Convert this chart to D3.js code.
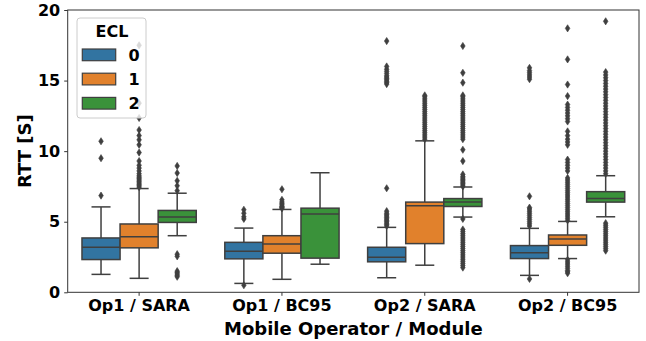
<!DOCTYPE html>
<html>
<head>
<meta charset="utf-8">
<script src="https://cdn.jsdelivr.net/npm/d3@7"></script>
<style>
  body { margin: 0; background: #fff; }
  svg text { font-family: "DejaVu Sans", sans-serif; font-weight: bold; fill: #000; }
</style>
</head>
<body>
<div id="chart"></div>
<script>
// categories and hue levels
const categories = ["Op1 / SARA", "Op1 / BC95", "Op2 / SARA", "Op2 / BC95"];
const hues = ["0", "1", "2"];
const hueColors = ["#3274a1", "#e1812c", "#3a923a"];

// box statistics, one row per category, one value per hue (ECL 0, 1, 2)
const q1 = [[2.32, 3.15, 4.95], [2.37, 2.77, 2.42], [2.16, 3.45, 6.08], [2.39, 3.33, 6.39]];
const medians = [[3.2, 3.94, 5.33], [2.91, 3.43, 5.54], [2.49, 6.13, 6.39], [2.8, 3.78, 6.64]];
const q3 = [[3.85, 4.84, 5.8], [3.54, 4.01, 5.96], [3.19, 6.39, 6.64], [3.31, 4.06, 7.13]];
const whiskerLow = [[1.27, 0.99, 4.01], [0.63, 0.92, 1.99], [1.03, 1.92, 5.33], [1.2, 2.39, 5.35]];
const whiskerHigh = [[6.05, 7.35, 7.02], [4.55, 5.87, 8.47], [4.6, 10.73, 7.46], [4.53, 5.02, 8.26]];

// fliers
const outliers = [
  [
    [6.85, 9.5, 10.7],
    [7.45, 7.55, 7.65, 7.75, 7.85, 7.95, 8.05, 8.15, 8.25, 8.4, 8.6, 8.8, 9.0, 9.3, 9.9, 10.45, 10.8, 11.1, 11.5, 12.35, 13.4, 17.5],
    [7.2, 7.55, 7.9, 8.45, 8.95, 2.7, 2.55, 1.5, 1.4, 1.3, 1.2, 1.1]
  ],
  [
    [5.2, 5.35, 5.6, 5.85, 0.5],
    [5.95, 6.0, 6.05, 6.1, 6.2, 6.3, 6.4, 6.55, 7.3],
    []
  ],
  [
    [4.7, 4.8, 4.9, 5.0, 5.1, 5.2, 5.3, 5.4, 5.5, 5.6, 5.75, 7.37, 14.75, 14.85, 14.95, 15.05, 15.15, 15.25, 15.35, 15.5, 15.65, 15.8, 16.0, 17.8],
    [10.85, 11.0, 11.15, 11.3, 11.45, 11.6, 11.75, 11.9, 12.05, 12.2, 12.35, 12.5, 12.65, 12.8, 12.95, 13.1, 13.25, 13.4, 13.55, 13.7, 13.85, 13.95],
    [7.5, 7.6, 7.7, 7.8, 7.9, 8.0, 8.1, 8.2, 8.35, 9.3, 10.1,
     10.85, 11.0, 11.15, 11.3, 11.45, 11.6, 11.75, 11.9, 12.05, 12.2, 12.35, 12.5, 12.65, 12.8, 12.95, 13.1, 13.25, 13.4, 13.55, 13.7, 13.85, 13.95,
     14.85, 15.55, 17.45,
     5.2, 4.45, 4.3, 4.15, 4.0, 3.85, 3.7, 3.55, 3.4, 3.25, 3.1, 2.95, 2.8, 2.65, 2.5, 2.35, 2.2, 2.05, 1.9, 1.75]
  ],
  [
    [4.7, 4.85, 5.0, 5.15, 5.3, 5.45, 5.6, 5.75, 5.9, 6.0, 6.8, 15.1, 15.25, 15.4, 15.55, 15.7, 15.9, 0.95],
    [5.1, 5.25, 5.4, 5.55, 5.7, 5.85, 6.0, 6.15, 6.3, 6.45, 6.6, 6.75, 6.9, 7.05, 7.2, 7.35, 7.5, 7.65, 7.8, 7.95, 8.1,
     8.6, 8.8, 9.0, 9.2, 9.4, 10.45, 10.65, 10.85, 11.1, 11.4, 12.1, 12.3, 12.5, 12.7, 12.9, 13.1, 13.3, 13.9, 14.72, 16.5, 18.7,
     2.3, 2.15, 2.0, 1.85, 1.7, 1.55, 1.45, 1.35],
    [8.4, 8.6, 8.8, 9.0, 9.2, 9.4, 9.6, 9.8, 10.0, 10.2, 10.4, 10.6, 10.8, 11.0, 11.2, 11.4, 11.6, 11.8, 12.0, 12.2, 12.4, 12.6, 12.8,
     13.0, 13.2, 13.4, 13.6, 13.8, 14.0, 14.2, 14.4, 14.6, 14.8, 15.0, 15.2, 15.4, 15.6, 19.2,
     4.9, 4.75, 4.6, 4.45, 4.3, 4.15, 4.0, 3.85, 3.7, 3.55, 3.4, 3.25, 3.1, 2.95]
  ]
];

const yTicks = [0, 5, 10, 15, 20];

// layout
const W = 646, H = 341;
const m = {left: 67.7, right: 7, top: 10, bottom: 48.7};
const lineCol = "#3f3f3f";

const svg = d3.select("#chart").append("svg")
  .attr("width", W).attr("height", H);

const x = d3.scaleBand().domain(categories).range([m.left, W - m.right]);
const hueX = d3.scaleBand().domain(hues).range([x.bandwidth() * 0.1, x.bandwidth() * 0.9]);
const y = d3.scaleLinear().domain([0, 20]).range([H - m.bottom, m.top]);
const color = d3.scaleOrdinal().domain(hues).range(hueColors);

// flat table for drawing
let rows = [];
categories.forEach((c, i) => {
  hues.forEach((h, j) => {
    rows.push({cat: c, hue: h, q1: q1[i][j], med: medians[i][j], q3: q3[i][j],
      lo: whiskerLow[i][j], hi: whiskerHigh[i][j], fliers: outliers[i][j]});
  });
});

const bw = hueX.bandwidth();
const cx = d => x(d.cat) + hueX(d.hue) + bw / 2;

const g = svg.append("g");

// whiskers
g.selectAll(".whisk").data(rows).enter().append("g").each(function(d) {
  const s = d3.select(this);
  s.append("line").attr("x1", cx(d)).attr("x2", cx(d)).attr("y1", y(d.q3)).attr("y2", y(d.hi));
  s.append("line").attr("x1", cx(d)).attr("x2", cx(d)).attr("y1", y(d.q1)).attr("y2", y(d.lo));
  s.append("line").attr("x1", cx(d) - bw / 4).attr("x2", cx(d) + bw / 4).attr("y1", y(d.hi)).attr("y2", y(d.hi));
  s.append("line").attr("x1", cx(d) - bw / 4).attr("x2", cx(d) + bw / 4).attr("y1", y(d.lo)).attr("y2", y(d.lo));
}).selectAll("line").attr("stroke", lineCol).attr("stroke-width", 1.5);

// boxes
g.selectAll(".box").data(rows).enter().append("rect")
  .attr("x", d => cx(d) - bw / 2)
  .attr("width", bw)
  .attr("y", d => y(d.q3))
  .attr("height", d => y(d.q1) - y(d.q3))
  .attr("fill", d => color(d.hue))
  .attr("stroke", lineCol)
  .attr("stroke-width", 1.5);

// medians
g.selectAll(".med").data(rows).enter().append("line")
  .attr("x1", d => cx(d) - bw / 2).attr("x2", d => cx(d) + bw / 2)
  .attr("y1", d => y(d.med)).attr("y2", d => y(d.med))
  .attr("stroke", lineCol).attr("stroke-width", 1.5);

// fliers as thin diamonds
const diamond = "M0,-3.6L2.3,0L0,3.6L-2.3,0Z";
rows.forEach(d => {
  g.selectAll(null).data(d.fliers).enter().append("path")
    .attr("d", diamond)
    .attr("transform", v => "translate(" + cx(d) + "," + y(v) + ")")
    .attr("fill", lineCol)
    .attr("stroke", lineCol)
    .attr("stroke-width", 0.6);
});

// axes
const xAxis = svg.append("g")
  .attr("transform", "translate(0," + (H - m.bottom) + ")")
  .call(d3.axisBottom(x).tickSizeOuter(0).tickSize(3.5).tickPadding(4));
const yAxis = svg.append("g")
  .attr("transform", "translate(" + m.left + ",0)")
  .call(d3.axisLeft(y).tickValues(yTicks).tickSizeOuter(0).tickSize(3.5).tickPadding(4));
[xAxis, yAxis].forEach(a => {
  a.select(".domain").remove();
  a.selectAll("line").attr("stroke", "#333").attr("stroke-width", 1);
  a.selectAll("text").attr("font-size", 16).attr("font-family", "DejaVu Sans").attr("font-weight", "bold").attr("fill", "#000");
});

// frame
svg.append("rect")
  .attr("x", m.left).attr("y", m.top)
  .attr("width", W - m.right - m.left).attr("height", H - m.bottom - m.top)
  .attr("fill", "none").attr("stroke", "#333").attr("stroke-width", 1);

// axis titles
svg.append("text")
  .attr("x", (m.left + W - m.right) / 2).attr("y", 335)
  .attr("text-anchor", "middle").attr("font-size", 18)
  .text("Mobile Operator / Module");
svg.append("text")
  .attr("transform", "translate(31," + ((m.top + H - m.bottom) / 2) + ") rotate(-90)")
  .attr("text-anchor", "middle").attr("font-size", 18)
  .text("RTT [S]");

// legend
const legend = svg.append("g").attr("transform", "translate(77,18)");
legend.append("rect")
  .attr("width", 69).attr("height", 100).attr("rx", 3)
  .attr("fill", "#fff").attr("fill-opacity", 0.8)
  .attr("stroke", "#cccccc").attr("stroke-width", 1);
legend.append("text")
  .attr("x", 35).attr("y", 19).attr("text-anchor", "middle").attr("font-size", 16)
  .text("ECL");
legend.selectAll(".sw").data(hues).enter().append("rect")
  .attr("x", 5.3).attr("y", (d, i) => 31 + i * 24.2)
  .attr("width", 33.4).attr("height", 11.7)
  .attr("fill", d => color(d)).attr("stroke", lineCol).attr("stroke-width", 1.2);
legend.selectAll(".lb").data(hues).enter().append("text")
  .attr("x", 51.5).attr("y", (d, i) => 31 + i * 24.2 + 11.5)
  .attr("font-size", 16)
  .text(d => d);
</script>
</body>
</html>
